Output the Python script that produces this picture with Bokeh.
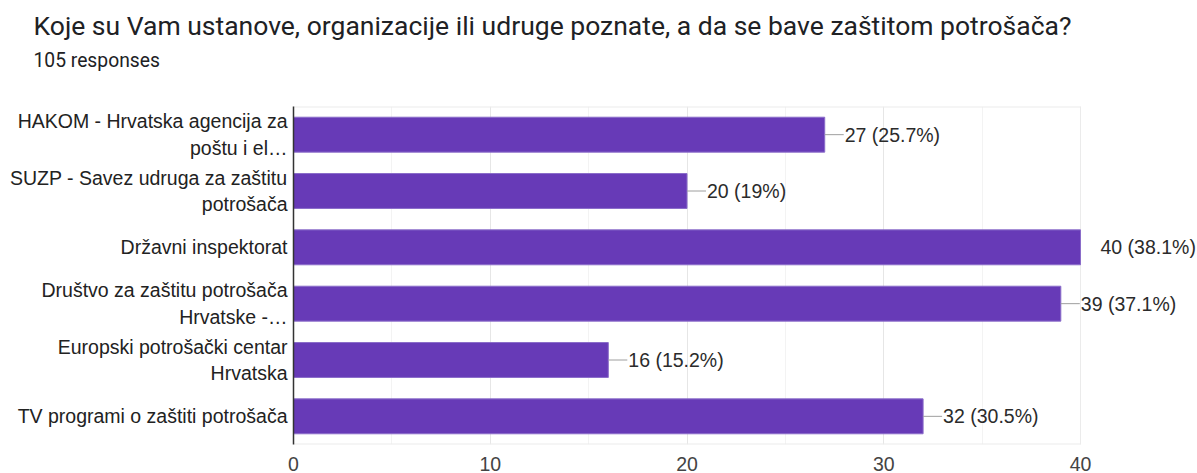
from bokeh.plotting import figure
from bokeh.models import Range1d, ColumnDataSource, Title, FixedTicker
from bokeh.embed import file_html
from bokeh.resources import INLINE

title_text = "Koje su Vam ustanove, organizacije ili udruge poznate, a da se bave zaštitom potrošača?"
subtitle_text = "105 responses"
categories = [
    "HAKOM - Hrvatska agencija za\npoštu i el…",
    "SUZP - Savez udruga za zaštitu\npotrošača",
    "Državni inspektorat",
    "Društvo za zaštitu potrošača\nHrvatske -…",
    "Europski potrošački centar\nHrvatska",
    "TV programi o zaštiti potrošača",
]
counts = [27, 20, 40, 39, 16, 32]
percents = ["25.7%", "19%", "38.1%", "37.1%", "15.2%", "30.5%"]
x_ticks = [0, 10, 20, 30, 40]
x_minor = [5, 15, 25, 35]

n = len(categories)
positions = [i + 0.5 for i in range(n)]
labels = [f"{c} ({p})" for c, p in zip(counts, percents)]

# frame extends to the right edge so value labels beyond 40 stay visible;
# the visible chart box (0..40) is drawn as light grey lines
frame_left, box_right, canvas_w = 293, 1080, 1197
px_per_unit = (box_right - frame_left) / x_ticks[-1]
x_max = (canvas_w - frame_left) / px_per_unit
leader_units = 19 / px_per_unit
leader_end = [min(v + leader_units, x_ticks[-1]) for v in counts]

src = ColumnDataSource(dict(y=positions, v=counts, lab=labels, le=leader_end))

p = figure(width=canvas_w, height=473, output_backend="svg", toolbar_location=None,
           x_range=Range1d(x_ticks[0], x_max), y_range=Range1d(n, 0),
           min_border_left=frame_left, min_border_right=0, min_border_top=106, min_border_bottom=29)
p.background_fill_color = "white"
p.border_fill_color = "white"
p.outline_line_color = None

spacer = Title(text=" ", text_font="Roboto", text_font_size="28px", standoff=0)
sub = Title(text=subtitle_text, text_font="Roboto", text_font_size="19.3px",
            text_color="#202124", text_font_style="normal", offset=-260, standoff=0)
main = Title(text=title_text, text_font="Roboto", text_font_size="26.5px",
             text_color="#202124", text_font_style="normal", offset=-260, standoff=8,
             vertical_align="top")
p.add_layout(spacer, "above")
p.add_layout(sub, "above")
p.add_layout(main, "above")

# chart box border (top, bottom, right)
border_col = "#ebebeb"
p.segment(x0=[x_ticks[0], x_ticks[0]], x1=[x_ticks[-1], x_ticks[-1]], y0=[0, n], y1=[0, n],
          line_color=border_col, line_width=2)
p.segment(x0=[x_ticks[-1]], x1=[x_ticks[-1]], y0=[0], y1=[n], line_color=border_col, line_width=1)

p.hbar(y="y", right="v", left=0, height=0.62, source=src,
       fill_color="#673ab7", line_color="#8a6cc9", line_width=1)
p.segment(x0="v", x1="le", y0="y", y1="y", line_color="#9e9e9e", line_width=1, source=src)

p.text(x="v", y="y", text="lab", source=src, x_offset=20,
       text_baseline="middle", text_align="left",
       text_font={"value": "Liberation Sans"}, text_font_size={"value": "19.5px"},
       text_color="#2b2b2b")

p.xaxis.ticker = FixedTicker(ticks=x_ticks, minor_ticks=x_minor)
p.xaxis.axis_line_color = None
p.xaxis.major_tick_line_color = None
p.xaxis.minor_tick_line_color = None
p.xaxis.major_label_text_font = "Liberation Sans"
p.xaxis.major_label_text_font_size = "19.5px"
p.xaxis.major_label_text_color = "#444444"
p.xaxis.major_label_standoff = 6

p.yaxis.ticker = FixedTicker(ticks=positions)
p.yaxis.major_label_overrides = {pos: cat for pos, cat in zip(positions, categories)}
p.yaxis.axis_line_color = "#333333"
p.yaxis.axis_line_width = 1.5
p.yaxis.major_tick_line_color = None
p.yaxis.minor_tick_line_color = None
p.yaxis.major_label_text_font = "Liberation Sans"
p.yaxis.major_label_text_font_size = "19.5px"
p.yaxis.major_label_text_color = "#222222"
p.yaxis.major_label_standoff = 0

p.xgrid.grid_line_color = "#e6e6e6"
p.xgrid.minor_grid_line_color = "#f3f3f3"
p.ygrid.grid_line_color = None

open("out.html", "w").write(file_html(p, INLINE))
